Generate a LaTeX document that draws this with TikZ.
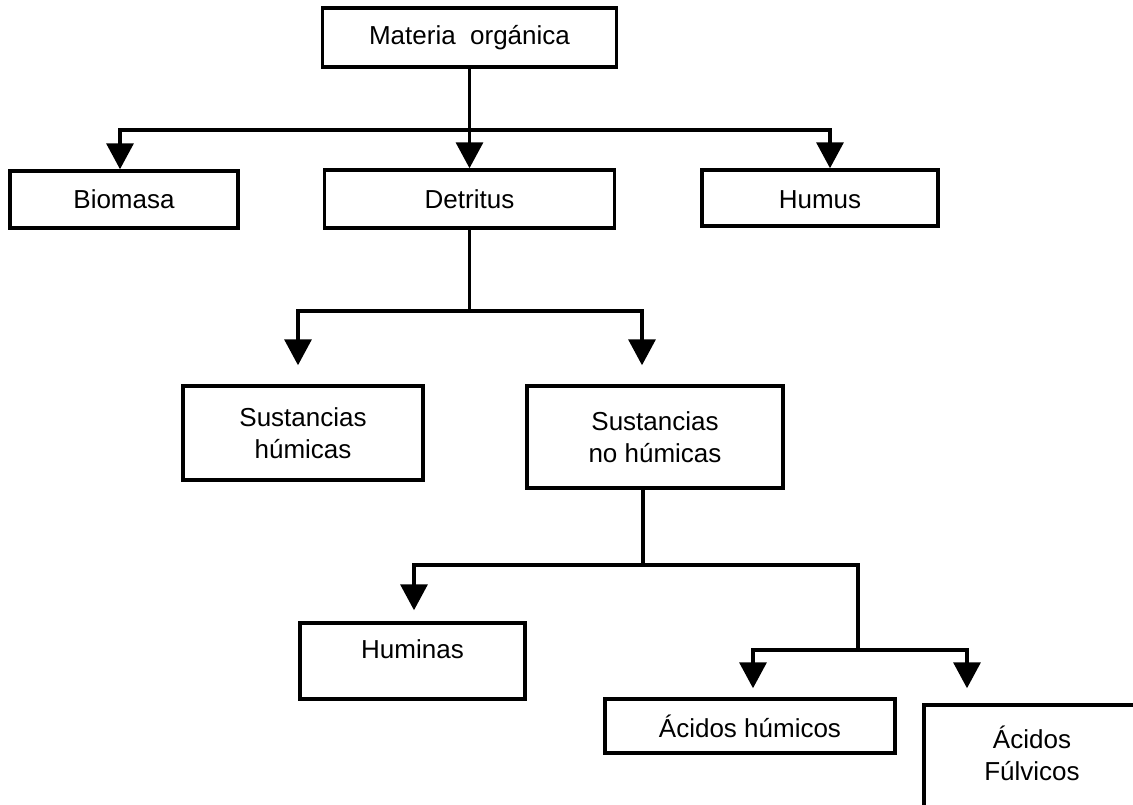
\documentclass[tikz,border=0pt]{standalone}
\usepackage{fontspec}
\setmainfont{Liberation Sans}
\usetikzlibrary{arrows.meta}
\begin{document}
\begin{tikzpicture}[x=1pt,y=-1pt,
  box/.style={draw, line width=3.5pt, inner sep=0pt, align=center, font=\fontsize{26}{32}\selectfont},
  txt/.style={inner sep=0pt, align=center, font=\fontsize{26}{32}\selectfont},
  lnk/.style={line width=3.5pt},
  arr/.style={lnk, -{Triangle[width=27pt,length=26pt]}}]
\useasboundingbox (0,0) rectangle (1133,804);
\fill[white] (0,0) rectangle (1133,804);
% boxes
\node[box, minimum width=294pt, minimum height=59pt] (materia) at (469.5,37.5) {Materia\ \ orgánica};
\node[box, minimum width=228pt, minimum height=57pt] (biomasa) at (124,199.5) {Biomasa};
\node[box, minimum width=290pt, minimum height=58pt] (detritus) at (469.5,199) {Detritus};
\node[box, minimum width=236pt, minimum height=56pt] (humus) at (820,198) {};
\node[txt] (humust) at (820,200) {Humus};
\node[box, minimum width=240pt, minimum height=94pt] (sh) at (303,433) {Sustancias\\húmicas};
\node[box, minimum width=256pt, minimum height=102pt] (snh) at (655,437) {Sustancias\\no húmicas};
\node[box, minimum width=225pt, minimum height=76pt] (huminas) at (412.5,661) {};
\node[txt] (huminast) at (412.5,649) {Huminas};
\node[box, minimum width=290pt, minimum height=54pt] (ah) at (750,726) {Ácidos húmicos};
\node[box, minimum width=236pt, minimum height=125pt] (af) at (1042,767.5) {};
\node[txt] (aft) at (1032,753) {Ácidos\\Fúlvicos};
% junctions
\coordinate (j1) at (469.5,130);
\coordinate (j2) at (469.5,311);
\coordinate (j3) at (643,565);
\coordinate (j4) at (858,650);
% connectors
\draw[arr] (materia.south) -- (detritus.north);
\draw[arr] (j1) -| ([xshift=-4pt]biomasa.north);
\draw[arr] (j1) -| ([xshift=10pt]humus.north);
\draw[lnk] (detritus.south) -- (j2);
\draw[arr, shorten >=19pt] (j2) -| ([xshift=-5pt]sh.north);
\draw[arr, shorten >=19pt] (j2) -| ([xshift=-13pt]snh.north);
\draw[lnk] ([xshift=-12pt]snh.south) -- (j3);
\draw[arr, shorten >=11pt] (j3) -| ([xshift=1.5pt]huminas.north);
\draw[lnk] (j3) -| (j4);
\draw[arr, shorten >=9pt] (j4) -| ([xshift=3pt]ah.north);
\draw[arr, shorten >=15pt] (j4) -| ([xshift=-75pt]af.north);
\end{tikzpicture}
\end{document}
